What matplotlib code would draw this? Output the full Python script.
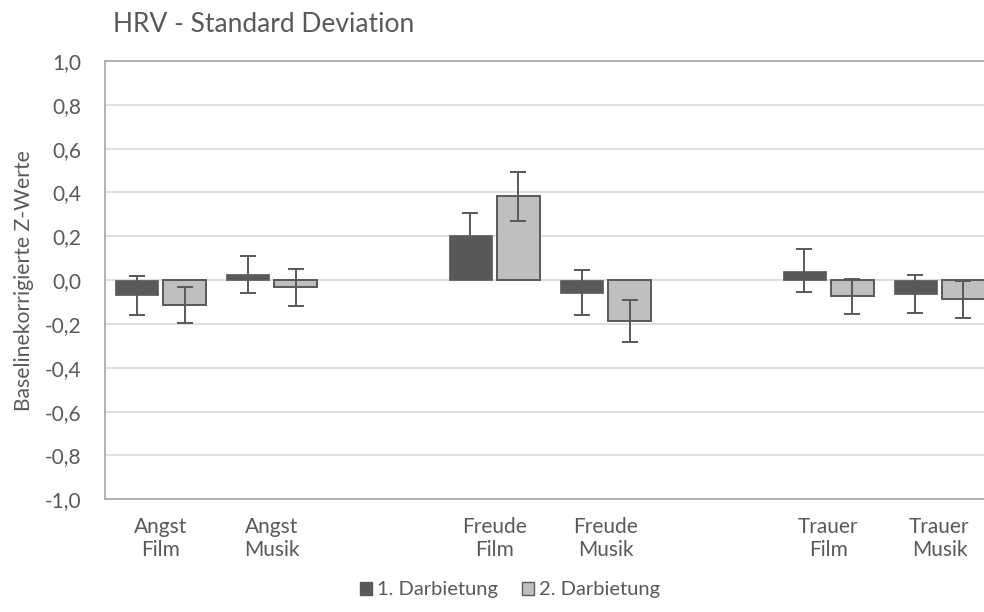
import numpy as np
import matplotlib
matplotlib.use("Agg")
import matplotlib.pyplot as plt
from matplotlib.patches import Patch

plt.rcParams['font.family'] = ['Lato', 'DejaVu Sans']

# Kategorien (leere Einträge = Lücke zwischen den Gruppen)
kategorien = ["Angst\nFilm", "Angst\nMusik", "", "Freude\nFilm", "Freude\nMusik", "",
              "Trauer\nFilm", "Trauer\nMusik"]
darb1 = [-0.068, 0.026, None, 0.205, -0.058, None, 0.042, -0.065]
darb2 = [-0.114, -0.033, None, 0.383, -0.186, None, -0.073, -0.088]
err1 = [0.089, 0.085, None, 0.100, 0.103, None, 0.098, 0.087]
err2 = [0.082, 0.085, None, 0.112, 0.095, None, 0.080, 0.086]
yticks = [-1.0, -0.8, -0.6, -0.4, -0.2, 0.0, 0.2, 0.4, 0.6, 0.8, 1.0]

dunkel = "#595959"
hell = "#BFBFBF"
textfarbe = "#595959"

fig = plt.figure(figsize=(9.84, 6.12), dpi=100)
ax = fig.add_axes([105/984, 1 - 499.3/612, 890/984, 438.3/612])

x = np.arange(len(kategorien))
breite = 0.386
off = 0.215
idx = [i for i, v in enumerate(darb1) if v is not None]

ax.bar(x[idx] - off, [darb1[i] for i in idx], breite, color=dunkel, edgecolor=dunkel,
       linewidth=0.5, zorder=3)
ax.bar(x[idx] + off, [darb2[i] for i in idx], breite, color=hell, edgecolor=dunkel,
       linewidth=1.4, zorder=3)
ax.errorbar(x[idx] - off, [darb1[i] for i in idx], yerr=[err1[i] for i in idx], fmt='none',
            ecolor=dunkel, elinewidth=1.4, capsize=6, capthick=1.4, zorder=4)
ax.errorbar(x[idx] + off, [darb2[i] for i in idx], yerr=[err2[i] for i in idx], fmt='none',
            ecolor=dunkel, elinewidth=1.4, capsize=6, capthick=1.4, zorder=4)

ax.set_xlim(-0.5, len(kategorien) - 0.5)
ax.set_ylim(-1.0, 1.0)
ax.set_yticks(yticks)
ax.set_yticklabels([f"{v:.1f}".replace(".", ",") for v in yticks])
ax.set_xticks(x)
ax.set_xticklabels(kategorien, linespacing=1.15)
ax.tick_params(axis='both', length=0, labelsize=15, colors=textfarbe)
ax.tick_params(axis='y', pad=17)
ax.tick_params(axis='x', pad=13)
ax.yaxis.grid(True, color="#D9D9D9", linewidth=1.2, zorder=0)
ax.set_axisbelow(True)
for s in ax.spines.values():
    s.set_color("#A6A6A6")
    s.set_linewidth(1.2)

ax.set_ylabel("Baselinekorrigierte Z-Werte", fontsize=15.2, color=textfarbe)
ax.yaxis.set_label_coords(-71/890, 0.5)

fig.text(113/984, 1 - 32/612, "HRV - Standard Deviation", fontsize=19, color=textfarbe,
         va='baseline', ha='left')

handles = [Patch(facecolor=dunkel, edgecolor=dunkel, label="1. Darbietung"),
           Patch(facecolor=hell, edgecolor=dunkel, label="2. Darbietung")]
fig.legend(handles=handles, loc='center', bbox_to_anchor=(510/984, 1 - 590/612), ncol=2,
           frameon=False, fontsize=14.5, handlelength=0.6, handleheight=0.6,
           handletextpad=0.25, columnspacing=1.2, labelcolor=textfarbe)

fig.savefig("out.png", dpi=100)
